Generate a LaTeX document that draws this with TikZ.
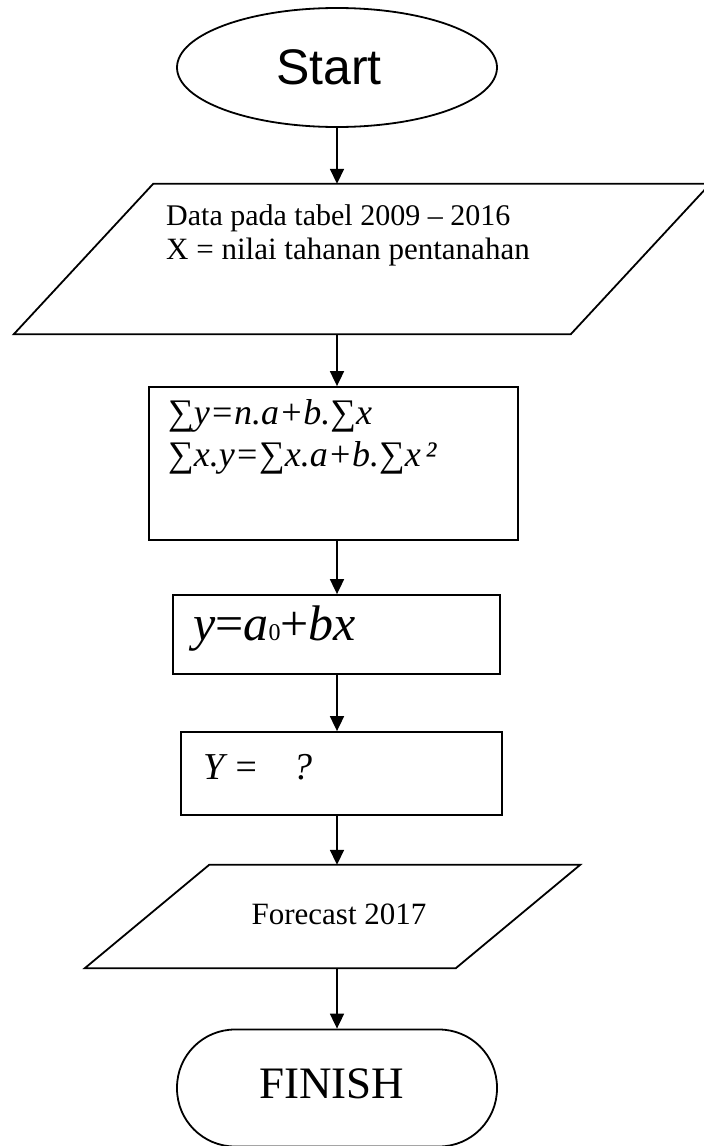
\documentclass[tikz,border=0pt]{standalone}
\usepackage{fontspec}
\setmainfont{Liberation Serif}
\newfontfamily\arialfont{Liberation Sans}
\usetikzlibrary{shapes.geometric,arrows.meta}
\tikzset{
  shape line/.style={draw=black, line width=1.8pt},
  stepbox/.style={shape line, rectangle, inner sep=0pt},
  ghost/.style={draw=none, rectangle, inner sep=0pt},
  arr/.style={line width=1.8pt, -{Triangle[width=14pt,length=15pt]}},
  txt/.style={inner sep=0pt, anchor=base west},
}
\begin{document}
\begin{tikzpicture}[x=1pt,y=-1pt]
\clip (0,0) rectangle (704,1146);
\fill[white] (0,0) rectangle (704,1146);

% Start
\node[shape line, ellipse, minimum width=320pt, minimum height=119pt, inner sep=0pt] (start) at (337,67.5) {};
\node[inner sep=0pt, anchor=base] (starttext) at (329,84) {\arialfont\fontsize{50}{60}\selectfont Start};

% Data parallelogram
\node[ghost, minimum width=696pt, minimum height=150pt] (data) at (362,259) {};
\draw[shape line] (data.south west) -- ++(557,0) -- (data.north east) -- ++(-557,0) -- cycle;
\node[txt] (data1) at (166,225) {\fontsize{30}{36}\selectfont Data pada tabel 2009 – 2016};
\node[txt] (data2) at (166,259) {\fontsize{31}{36}\selectfont X = nilai tahanan pentanahan};

% Sum box
\node[stepbox, minimum width=369pt, minimum height=153pt] (sum) at (333.5,463.5) {};
\node[txt] (sum1) at (168,424) {\fontsize{36}{42}\selectfont\itshape ∑y=n.a+b.∑x};
\node[txt] (sum2) at (168,466) {\fontsize{36}{42}\selectfont\itshape ∑x.y=∑x.a+b.∑x\hspace{5pt}²};

% Equation box
\node[stepbox, minimum width=327pt, minimum height=79pt] (eq) at (336.5,634.5) {};
\node[txt] (eqtext) at (193,640) {\fontsize{50}{56}\selectfont\textit{y}=\textit{a}{\fontsize{24}{24}\selectfont 0}+\textit{bx}};

% Y box
\node[stepbox, minimum width=321pt, minimum height=83pt] (ybox) at (341.5,773.5) {};
\node[txt] (ytext) at (203,779) {\fontsize{38}{44}\selectfont\itshape Y =\hspace{34pt}?};

% Forecast parallelogram
\node[ghost, minimum width=495pt, minimum height=103pt] (fc) at (332.5,916.5) {};
\draw[shape line] (fc.south west) -- ++(371,0) -- (fc.north east) -- ++(-371,0) -- cycle;
\node[inner sep=0pt, anchor=base] (fctext) at (339,924) {\fontsize{31}{36}\selectfont Forecast 2017};

% Finish
\node[stepbox, rounded corners=58pt, minimum width=320pt, minimum height=117pt] (finish) at (337,1088) {};
\node[inner sep=0pt, anchor=base] (fintext) at (332,1098) {\fontsize{45}{50}\selectfont FINISH};

% Connectors
\draw[arr] (start.south) -- (start.south |- data.north);
\draw[arr] (data.south -| start.south) -- (sum.north -| start.south);
\draw[arr] (sum.south -| start.south) -- (eq.north -| start.south);
\draw[arr] (eq.south -| start.south) -- (ybox.north -| start.south);
\draw[arr] (ybox.south -| start.south) -- (fc.north -| start.south);
\draw[arr] (fc.south -| start.south) -- (finish.north -| start.south);
\end{tikzpicture}
\end{document}
